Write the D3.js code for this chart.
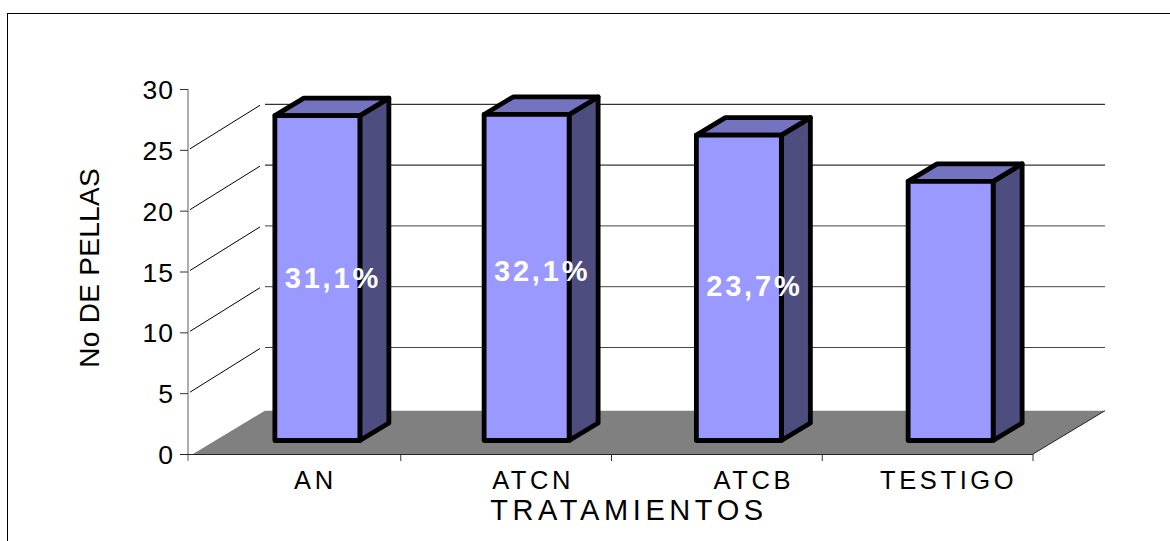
<!DOCTYPE html>
<html><head><meta charset="utf-8">
<script src="https://cdn.jsdelivr.net/npm/d3@7/dist/d3.min.js"></script>
<style>html,body{margin:0;padding:0;background:#fff;overflow:hidden}svg{display:block}text{font-family:"Liberation Sans",Arial,sans-serif;fill:#000}</style>
</head><body><svg id="c" width="1170" height="541"></svg>
<script>
const categories = ["AN","ATCN","ATCB","TESTIGO"];
const values = [26.7,26.8,25.1,21.3];
const percentLabels = ["31,1%","32,1%","23,7%",null];
const yTicks = [0,5,10,15,20,25,30];
const gridValues = [5,10,15,20,25];
const yTitle = "No DE PELLAS";
const xTitle = "TRATAMIENTOS";

const W=1170,H=541;
const svg=d3.select("#c");
const x=d3.scaleBand().domain(categories).range([190,1033]).paddingInner(0).paddingOuter(0);
const y=d3.scaleLinear().domain([0,30]).range([454,89]);
const yBack=d3.scaleLinear().domain([0,25]).range([408.3,104.3]);
const yBar=d3.scaleLinear().domain([0,30]).range([440.5,75.5]);
const wallDx=76;
const barW=85, barOff=22, bx=29, by=-17.5;
const barNudge=[0,-1.5,0,1];
const pctDy=[172,167,161,0];
const catDx=[20,27,37,21];

svg.append("rect").attr("x",7.5).attr("y",13.5).attr("width",W).attr("height",H).attr("fill","#fff").attr("stroke","#000").attr("stroke-width",1);

const xL=x.range()[0], xR=x.range()[1];
svg.append("polygon").attr("fill","#808080")
  .attr("points",[[xL+3,y(0)],[xR,y(0)],[xR+wallDx-4,yBack(0)+2.4],[xL+wallDx-1,yBack(0)+2.4]].join(" "));

const g=svg.append("g");
g.selectAll("line.grid").data(gridValues).join("line").attr("class","grid")
  .attr("x1",xL+wallDx-1).attr("x2",xR+wallDx-4).attr("y1",d=>yBack(d)).attr("y2",d=>yBack(d))
  .attr("stroke",d=>d>=20?"#000":"#444").attr("stroke-width",1);
g.selectAll("line.diag").data(gridValues).join("line").attr("class","diag")
  .attr("x1",190).attr("x2",260).attr("y1",d=>y(d)-1).attr("y2",d=>yBack(d)+1)
  .attr("stroke","#000").attr("stroke-width",1);
svg.append("line").attr("x1",xR).attr("y1",y(0)).attr("x2",xR+wallDx-4).attr("y2",yBack(0)+2.4).attr("stroke","#222").attr("stroke-width",1);

// axes
const yAxis=d3.axisLeft(y).tickValues(yTicks).tickSize(8).tickPadding(6);
const ya=svg.append("g").attr("transform","translate(188,0)").call(yAxis);
ya.select(".domain").attr("d",`M0,${y(30)}V${y(0)+7}`).attr("stroke","#777").attr("stroke-width",1.2);
ya.selectAll(".tick line").attr("stroke","#333");
ya.selectAll("text").style("font-size","26.5px").style("letter-spacing","1px").attr("dy","0.36em");
ya.attr("font-family",null).attr("font-size",null);

svg.append("line").attr("x1",180).attr("x2",xR).attr("y1",y(0)+.5).attr("y2",y(0)+.5).attr("stroke","#222").attr("stroke-width",1);
const boundary=d3.scalePoint().domain(d3.range(categories.length+1)).range([xL,xR]);
svg.selectAll("line.xt").data(d3.range(1,categories.length+1)).join("line").attr("class","xt")
  .attr("x1",d=>boundary(d)).attr("x2",d=>boundary(d)).attr("y1",y(0)).attr("y2",y(0)+7).attr("stroke","#333");

// bars
const bars=svg.selectAll("g.bar").data(categories.map((c,i)=>({c,v:values[i],p:percentLabels[i],i}))).join("g").attr("class","bar");
const L=d=>x(d.c)+x.bandwidth()/2+barOff-barW/2+barNudge[d.i], R=d=>L(d)+barW;
const st=s=>s.attr("stroke","#000").attr("stroke-width",4.8).attr("stroke-linejoin","round");
bars.append("polygon").call(st).attr("fill","#4d4d80").attr("points",d=>[[R(d),yBar(d.v)],[R(d)+bx,yBar(d.v)+by],[R(d)+bx,yBar(0)+by],[R(d),yBar(0)]].join(" "));
bars.append("polygon").call(st).attr("fill","#7373bf").attr("points",d=>[[L(d),yBar(d.v)],[L(d)+bx,yBar(d.v)+by],[R(d)+bx,yBar(d.v)+by],[R(d),yBar(d.v)]].join(" "));
bars.append("rect").call(st).attr("fill","#9999ff").attr("x",L).attr("width",barW).attr("y",d=>yBar(d.v)).attr("height",d=>yBar(0)-yBar(d.v));
bars.filter(d=>d.p).append("text").text(d=>d.p)
  .attr("x",d=>L(d)+barW/2+15.5).attr("y",d=>yBar(d.v)+pctDy[d.i]).attr("text-anchor","middle")
  .style("fill","#fff").style("font-weight","bold").style("font-size","29px").style("letter-spacing","2.8px");

// category labels
svg.selectAll("text.cat").data(categories).join("text").attr("class","cat").text(d=>d)
  .attr("x",(d,i)=>x(d)+x.bandwidth()/2+catDx[i]).attr("y",489).attr("text-anchor","middle")
  .style("font-size","25.5px").style("letter-spacing","3.6px");
svg.append("text").text(xTitle).attr("x",629).attr("y",520).attr("text-anchor","middle")
  .style("font-size","29px").style("letter-spacing","4.6px");
svg.append("text").text(yTitle).attr("transform","translate(99,268) rotate(-90)").attr("text-anchor","middle")
  .style("font-size","28px").style("letter-spacing","0.3px");
</script></body></html>
